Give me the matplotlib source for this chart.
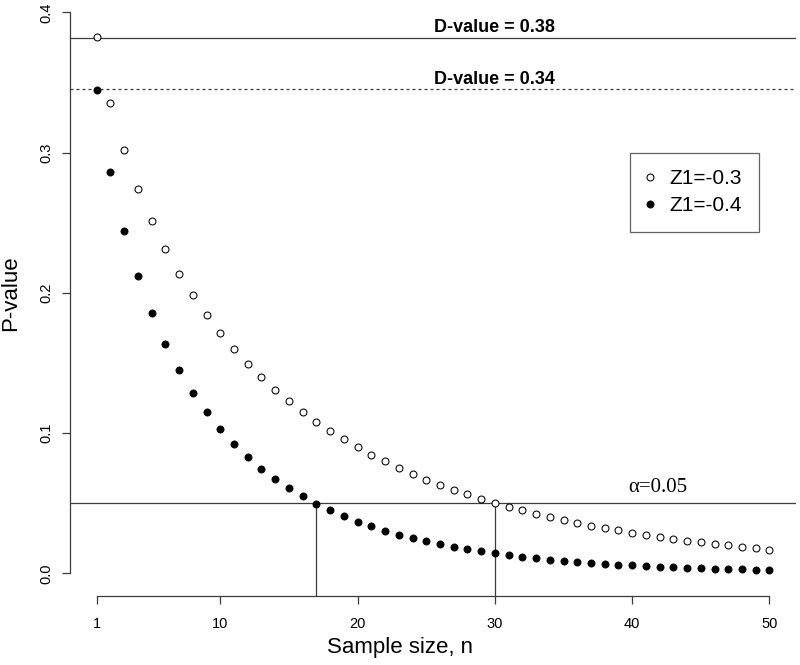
import matplotlib
matplotlib.use("Agg")
import matplotlib.pyplot as plt

# ---- data ----
n = list(range(1, 51))
p_z03 = [0.3821, 0.3357, 0.3017, 0.2743, 0.2512, 0.2312, 0.2137, 0.1981, 0.1841, 0.1714,
         0.1599, 0.1494, 0.1397, 0.1308, 0.1226, 0.1151, 0.1081, 0.1015, 0.0955, 0.0899,
         0.0846, 0.0797, 0.0751, 0.0708, 0.0668, 0.0630, 0.0595, 0.0562, 0.0531, 0.0502,
         0.0474, 0.0448, 0.0424, 0.0401, 0.0380, 0.0359, 0.0340, 0.0322, 0.0305, 0.0289,
         0.0274, 0.0259, 0.0246, 0.0233, 0.0221, 0.0209, 0.0199, 0.0188, 0.0179, 0.0169]
p_z04 = [0.3446, 0.2858, 0.2442, 0.2119, 0.1855, 0.1636, 0.1450, 0.1289, 0.1151, 0.1030,
         0.0923, 0.0829, 0.0746, 0.0672, 0.0607, 0.0548, 0.0496, 0.0448, 0.0406, 0.0368,
         0.0334, 0.0303, 0.0275, 0.0250, 0.0228, 0.0207, 0.0188, 0.0171, 0.0156, 0.0142,
         0.0130, 0.0118, 0.0108, 0.0098, 0.0090, 0.0082, 0.0075, 0.0068, 0.0062, 0.0057,
         0.0052, 0.0048, 0.0044, 0.0040, 0.0036, 0.0033, 0.0031, 0.0028, 0.0026, 0.0023]
series_labels = ["Z1=-0.3", "Z1=-0.4"]
d_values = [0.382, 0.345]
d_labels = ["D-value = 0.38", "D-value = 0.34"]
alpha_level = 0.05
alpha_label = "\u03b1=0.05"
cut_n = [17, 30]
x_ticks = [1, 10, 20, 30, 40, 50]
y_ticks = [0.0, 0.1, 0.2, 0.3, 0.4]
y_ticklabels = ["0.0", "0.1", "0.2", "0.3", "0.4"]

SANS = ["Liberation Sans", "DejaVu Sans"]
SERIF = ["Liberation Serif", "DejaVu Serif"]
plt.rcParams["font.family"] = SANS

W, H = 800, 665
fig = plt.figure(figsize=(W / 100, H / 100), dpi=100)
# axes in pixel geometry (R-style plot region, top slightly cropped)
left_px, right_px, bottom_px, top_px = 69.8, 796.4, 595.7, -10.1
ax = fig.add_axes([left_px / W, (H - bottom_px) / H,
                   (right_px - left_px) / W, (bottom_px - top_px) / H])
ax.set_xlim(1 - 0.04 * 49, 50 + 0.04 * 49)
ax.set_ylim(-0.016, 0.416)
ax.patch.set_visible(False)

lc = "#3c3c3c"
# reference lines
ax.axhline(d_values[0], color=lc, lw=0.9, zorder=1)
ax.axhline(d_values[1], color=lc, lw=0.9, ls=(0, (2.4, 2.4)), zorder=1)
ax.axhline(alpha_level, color=lc, lw=0.9, zorder=1)
ax.vlines(cut_n, -0.016, alpha_level, color=lc, lw=0.9, zorder=1)

# points
ax.plot(n, p_z03, ls="none", marker="o", ms=5.0, mfc="white", mec="black",
        mew=0.75, zorder=3, label=series_labels[0])
ax.plot(n, p_z04, ls="none", marker="o", ms=5.2, mfc="black", mec="black",
        mew=0.5, zorder=3, label=series_labels[1])

# annotations
for v, lab in zip(d_values, d_labels):
    ax.text(30, v + 0.0012, lab, ha="center", va="bottom", fontsize=13,
            fontweight="bold", family=SANS)
ax.text(41.9, alpha_level + 0.0045, alpha_label, ha="center", va="bottom",
        fontsize=15, family=SERIF)

# axes styling (R-like)
for s in ["top", "right"]:
    ax.spines[s].set_visible(False)
ax.spines["bottom"].set_bounds(1, 50)
ax.spines["left"].set_bounds(0, 0.4)
for s in ["bottom", "left"]:
    ax.spines[s].set_color(lc)
    ax.spines[s].set_linewidth(0.9)
ax.set_xticks(x_ticks)
ax.set_xticklabels([str(t) for t in x_ticks])
ax.set_yticks(y_ticks)
ax.set_yticklabels(y_ticklabels, rotation=90, va="center")
ax.tick_params(axis="both", direction="out", length=6, width=0.9, color=lc,
               labelsize=10.5)
ax.tick_params(axis="x", pad=9)
ax.tick_params(axis="y", pad=6)

fig.text(400 / W, 1 - 648 / H, "Sample size, n", ha="center", va="center",
         fontsize=16)
fig.text(10.5 / W, 1 - 293 / H, "P-value", ha="center", va="center",
         rotation=90, fontsize=16)

leg = ax.legend(loc="upper right", bbox_to_anchor=(759 / W, 1 - 152.7 / H),
                bbox_transform=fig.transFigure, borderaxespad=0,
                fontsize=15, frameon=True, fancybox=False, handlelength=0.3,
                handletextpad=0.8, borderpad=0.8, labelspacing=0.39,
                markerscale=1.0)
leg.get_frame().set_edgecolor(lc)
leg.get_frame().set_linewidth(0.9)

fig.savefig("out.png", dpi=100)
